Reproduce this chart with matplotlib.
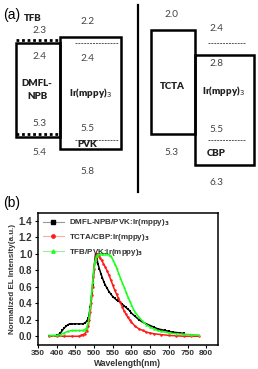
import matplotlib
matplotlib.use('Agg')
import matplotlib.pyplot as plt
from matplotlib.lines import Line2D
from matplotlib.patches import Rectangle

# energy levels in eV: [LUMO, HOMO]
TFB_LEVELS = [2.3, 5.3]
DMFL_NPB_LEVELS = [2.4, 5.4]
PVK_LEVELS = [2.2, 5.8]
IR_LEVELS = [2.4, 5.5]
TCTA_LEVELS = [2.0, 5.3]
CBP_LEVELS = [2.8, 6.3]

# EL spectra (wavelength nm, normalized intensity)
WL_DMFL = [380, 390, 400, 405, 410, 415, 420, 425, 430, 435, 440, 450, 460, 470, 475, 480, 485,
           488, 490, 492, 494, 496, 498, 500, 502, 504, 506, 508, 510, 514, 518, 522, 526, 530,
           535, 540, 545, 550, 555, 560, 565, 570, 575, 580, 585, 590, 595, 600, 610, 620, 630,
           640, 650, 660, 670, 680, 690, 700, 710, 720, 730, 740]
EL_DMFL = [0.0, 0.0, 0.01, 0.02, 0.04, 0.07, 0.1, 0.12, 0.14, 0.15, 0.15, 0.15, 0.15, 0.15, 0.16,
           0.18, 0.22, 0.3, 0.36, 0.44, 0.52, 0.62, 0.72, 0.83, 0.92, 1.0, 0.98, 0.94, 0.88, 0.82,
           0.76, 0.71, 0.66, 0.62, 0.58, 0.54, 0.51, 0.48, 0.46, 0.44, 0.43, 0.41, 0.39, 0.37, 0.35,
           0.33, 0.31, 0.28, 0.24, 0.2, 0.17, 0.15, 0.13, 0.11, 0.09, 0.08, 0.07, 0.06, 0.05, 0.045,
           0.04, 0.035]

WL_TCTA = [380, 400, 420, 440, 460, 465, 470, 475, 480, 484, 487, 490, 492, 494, 496, 498, 500,
           502, 504, 506, 508, 510, 512, 515, 520, 525, 530, 535, 540, 545, 550, 555, 560, 565,
           570, 575, 580, 585, 590, 595, 600, 610, 620, 630, 640, 650, 660, 680, 700, 720, 740,
           760, 780]
EL_TCTA = [0.0, 0.0, 0.0, 0.0, 0.0, 0.01, 0.02, 0.03, 0.06, 0.12, 0.2, 0.3, 0.4, 0.5, 0.6, 0.72,
           0.82, 0.9, 0.95, 0.98, 1.0, 0.99, 0.97, 0.95, 0.92, 0.88, 0.84, 0.79, 0.74, 0.68, 0.62,
           0.56, 0.51, 0.46, 0.41, 0.36, 0.31, 0.27, 0.23, 0.2, 0.17, 0.12, 0.09, 0.07, 0.05, 0.04,
           0.03, 0.02, 0.01, 0.005, 0.0, 0.0, 0.0]

WL_TFB = [380, 390, 400, 410, 420, 430, 440, 450, 460, 470, 475, 480, 484, 487, 490, 492, 494,
          496, 498, 500, 502, 504, 507, 510, 515, 520, 525, 530, 535, 540, 545, 550, 555, 560,
          565, 570, 575, 580, 585, 590, 595, 600, 605, 610, 620, 630, 640, 650, 660, 670, 680,
          700, 720, 740, 760, 780]
EL_TFB = [0.01, 0.01, 0.01, 0.02, 0.04, 0.06, 0.07, 0.07, 0.07, 0.07, 0.08, 0.1, 0.16, 0.25,
          0.36, 0.46, 0.56, 0.66, 0.76, 0.84, 0.9, 0.94, 0.97, 0.99, 1.0, 1.0, 1.0, 1.0, 1.0, 0.99,
          0.97, 0.93, 0.88, 0.83, 0.77, 0.71, 0.65, 0.6, 0.54, 0.48, 0.43, 0.38, 0.33, 0.29, 0.23,
          0.18, 0.14, 0.11, 0.09, 0.07, 0.06, 0.04, 0.03, 0.025, 0.02, 0.015]

SERIES_LABELS = ['DMFL-NPB/PVK:Ir(mppy)$_\\mathbf{3}$',
                 'TCTA/CBP:Ir(mppy)$_\\mathbf{3}$',
                 'TFB/PVK:Ir(mppy)$_\\mathbf{3}$']
SERIES_COLORS = ['black', '#ff1a1a', '#1aff1a']
LEGEND_LINE_COLORS = ['#999999', '#ffaaaa', '#99ee99']

X_TICKS = [350, 400, 450, 500, 550, 600, 650, 700, 750, 800]
Y_TICKS = [0.0, 0.2, 0.4, 0.6, 0.8, 1.0, 1.2, 1.4]

FIG_W, FIG_H = 258, 369
PX_PER_EV = 31.3
E_TOP = 1.03
A_HEIGHT = 195

NUM_COLOR = '#444444'
NUM_FONT = 'Lato'


def px(n):
    # pixel offset -> energy offset in panel (a)
    return n / PX_PER_EV


def box(ax, x0, x1, levels):
    ax.add_patch(Rectangle((x0, levels[0]), x1 - x0, levels[1] - levels[0],
                           fill=False, ec='black', lw=1.8))


def level_line(ax, x0, x1, y, kind):
    if kind == 'dotted':
        ax.plot([x0, x1], [y, y], color='black', lw=2.0, linestyle=(0, (1, 1)))
    else:
        ax.plot([x0, x1], [y, y], color='#555555', lw=0.7, linestyle=(0, (2, 1)))


def num(ax, x, y, value):
    ax.text(x, y, '{:.1f}'.format(value), ha='center', va='center', fontsize=7.2,
            color=NUM_COLOR, family=NUM_FONT)


def label(ax, x, y, s):
    ax.text(x, y, s, ha='center', va='center', fontsize=7, fontweight='heavy',
            color='#222222', family=NUM_FONT, linespacing=1.5)


def main():
    fig = plt.figure(figsize=(FIG_W / 100, FIG_H / 100), dpi=100)

    # ---- panel (a): energy level diagram
    ax = fig.add_axes([0, 1 - A_HEIGHT / FIG_H, 1, A_HEIGHT / FIG_H])
    ax.set_xlim(0, FIG_W)
    ax.set_ylim(E_TOP + A_HEIGHT / PX_PER_EV, E_TOP)
    ax.axis('off')

    # left device
    level_line(ax, 16, 60, TFB_LEVELS[0], 'dotted')
    level_line(ax, 16, 60, TFB_LEVELS[1], 'dotted')
    box(ax, 16, 60, DMFL_NPB_LEVELS)
    box(ax, 60, 121, PVK_LEVELS)
    level_line(ax, 75, 118, IR_LEVELS[0], 'dashed')
    level_line(ax, 75, 118, IR_LEVELS[1], 'dashed')

    label(ax, 33, TFB_LEVELS[0] - px(21), 'TFB')
    num(ax, 39, TFB_LEVELS[0] - px(9), TFB_LEVELS[0])
    num(ax, 39, DMFL_NPB_LEVELS[0] + px(14), DMFL_NPB_LEVELS[0])
    label(ax, 37, sum(DMFL_NPB_LEVELS) / 2, 'DMFL-\nNPB')
    num(ax, 39, TFB_LEVELS[1] - px(10), TFB_LEVELS[1])
    num(ax, 39, DMFL_NPB_LEVELS[1] + px(16), DMFL_NPB_LEVELS[1])

    num(ax, 88, PVK_LEVELS[0] - px(15), PVK_LEVELS[0])
    num(ax, 87, IR_LEVELS[0] + px(16), IR_LEVELS[0])
    label(ax, 90, sum(PVK_LEVELS) / 2, 'Ir(mppy)$_3$')
    num(ax, 87, IR_LEVELS[1] - px(11), IR_LEVELS[1])
    label(ax, 87, PVK_LEVELS[1] - px(5), 'PVK')
    num(ax, 87, PVK_LEVELS[1] + px(22), PVK_LEVELS[1])

    # divider
    ax.plot([138, 138], [E_TOP + px(5), E_TOP + px(192)], color='black', lw=1.6)

    # right device
    box(ax, 151, 195, TCTA_LEVELS)
    box(ax, 195, 254, CBP_LEVELS)
    level_line(ax, 208, 245, IR_LEVELS[0], 'dashed')
    level_line(ax, 208, 245, IR_LEVELS[1], 'dashed')

    num(ax, 171, TCTA_LEVELS[0] - px(16), TCTA_LEVELS[0])
    label(ax, 172, sum(TCTA_LEVELS) / 2 + px(4), 'TCTA')
    num(ax, 171, TCTA_LEVELS[1] + px(19), TCTA_LEVELS[1])
    num(ax, 216, IR_LEVELS[0] - px(14), IR_LEVELS[0])
    num(ax, 216, CBP_LEVELS[0] + px(8), CBP_LEVELS[0])
    label(ax, 223, sum(IR_LEVELS) / 2, 'Ir(mppy)$_3$')
    num(ax, 216, IR_LEVELS[1] - px(10), IR_LEVELS[1])
    label(ax, 216, CBP_LEVELS[1] - px(11), 'CBP')
    num(ax, 216, CBP_LEVELS[1] + px(18), CBP_LEVELS[1])

    fig.text(3 / FIG_W, 1 - 15 / FIG_H, '(a)', fontsize=10, va='center', family='Liberation Sans')
    fig.text(3 / FIG_W, 1 - 203 / FIG_H, '(b)', fontsize=10, va='center', family='Liberation Sans')

    # ---- panel (b): EL spectra
    bx = fig.add_axes([38 / FIG_W, 24.5 / FIG_H, 179.5 / FIG_W, 132 / FIG_H])
    series = [(WL_DMFL, EL_DMFL), (WL_TCTA, EL_TCTA), (WL_TFB, EL_TFB)]
    markers = ['s', 'o', '^']
    for (wl, el), color, mk in zip(series, SERIES_COLORS, markers):
        bx.plot(wl, el, color=color, lw=1.1, marker=mk, ms=1.8, mew=0)

    bx.set_xlim(350, 830)
    bx.set_ylim(-0.1, 1.5)
    bx.set_xticks(X_TICKS)
    bx.set_yticks(Y_TICKS)
    bx.set_xticklabels([str(t) for t in X_TICKS], fontsize=6, fontweight='bold',
                       family='Liberation Sans', color='#333333')
    bx.set_yticklabels(['{:.1f}'.format(t) for t in Y_TICKS], fontsize=7, fontweight='bold',
                       family='Liberation Sans', color='#333333')
    bx.tick_params(direction='out', length=2.5, width=0.8, pad=1.5)
    for sp in bx.spines.values():
        sp.set_linewidth(1.1)
    bx.set_xlabel('Wavelength(nm)', fontsize=6.2, fontweight='bold', family='Liberation Sans',
                  color='#333333', labelpad=1.5)
    bx.set_ylabel('Normalized EL Intensity(a.u.)', fontsize=5.8, fontweight='bold',
                  family='Liberation Sans', color='#333333', labelpad=2)

    handles = [Line2D([], [], color=lc, lw=0.8, marker=mk, ms=2.4, mfc=c, mec=c)
               for lc, c, mk in zip(LEGEND_LINE_COLORS, SERIES_COLORS, markers)]
    leg = bx.legend(handles, SERIES_LABELS, loc='upper left', frameon=False, handlelength=2.6,
                    handletextpad=0.6, labelspacing=0.45, borderaxespad=0.2,
                    prop={'family': 'Liberation Sans', 'weight': 'bold', 'size': 5.8})
    for t in leg.get_texts():
        t.set_color('#333333')

    fig.savefig('out.png', dpi=100)


if __name__ == '__main__':
    main()
